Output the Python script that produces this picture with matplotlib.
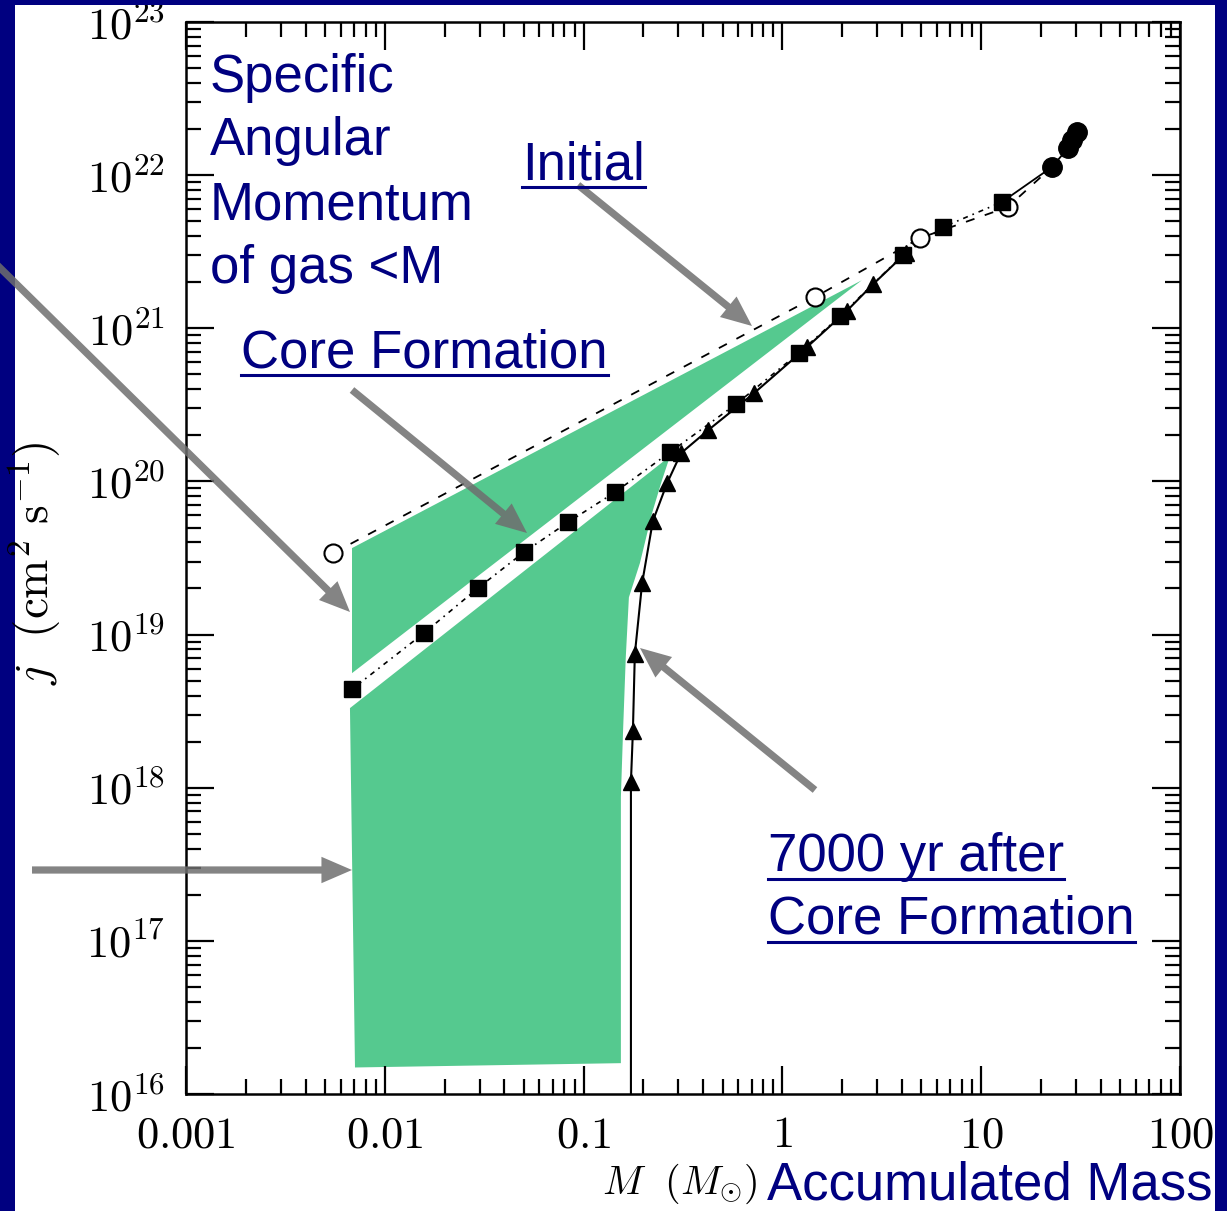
"""Specific angular momentum j(M) of the gas inside mass M, slide-style reproduction."""
import matplotlib
matplotlib.use("Agg")
import matplotlib.pyplot as plt
from matplotlib.patches import Rectangle, Polygon
from matplotlib.lines import Line2D
from matplotlib.ticker import LogLocator, NullFormatter

NAVY = "#000080"
GREEN = "#55c98f"
GRAY = "#6e6e6e"

# ---- data ----
init_m = [0.00549, 1.46, 4.92, 13.6, 22.7]
init_j = [3.40e19, 1.60e21, 3.88e21, 6.19e21, 1.13e22]

core_m = [0.00684, 0.0157, 0.0294, 0.0501, 0.0836, 0.144, 0.272, 0.585,
          1.21, 1.95, 4.04, 6.43, 12.7]
core_j = [4.40e18, 1.02e19, 2.01e19, 3.45e19, 5.42e19, 8.51e19, 1.55e20, 3.20e20,
          6.89e20, 1.20e21, 3.01e21, 4.58e21, 6.67e21]

late_m = [0.173, 0.177, 0.181, 0.197, 0.223, 0.263, 0.309, 0.423, 0.720,
          1.33, 2.11, 2.86, 4.18]
late_j = [1.09e18, 2.34e18, 7.45e18, 2.17e19, 5.51e19, 9.75e19, 1.53e20, 2.16e20,
          3.77e20, 7.54e20, 1.30e21, 1.94e21, 3.10e21]
late_floor = 1e16  # solid line drops to the axis below the first triangle

end_m = [12.7, 22.7, 27.3, 28.6, 30.3]
end_j = [6.67e21, 1.13e22, 1.50e22, 1.70e22, 1.91e22]

# shaded regions
wedge_m = [0.00684, 2.51, 0.00684]
wedge_j = [3.67e19, 2.06e21, 5.60e18]
lower_m = [0.00668, 0.272, 0.248, 0.221, 0.192, 0.169, 0.163, 0.158, 0.154, 0.154, 0.00708]
lower_j = [3.31e18, 1.46e20, 1.02e20, 6.21e19, 2.93e19, 1.75e19, 7.12e18, 2.38e18,
           8.67e17, 1.59e16, 1.49e16]

xticks = [0.001, 0.01, 0.1, 1, 10, 100]
xlabels = ["0.001", "0.01", "0.1", "1", "10", "100"]
yticks = [10.0 ** k for k in range(16, 24)]
ylabels = [rf"$10^{{{k}}}$" for k in range(16, 24)]

W, H = 1227, 1211
plt.rcParams["mathtext.fontset"] = "cm"

fig = plt.figure(figsize=(W / 100, H / 100), dpi=100, facecolor=NAVY)
fig.add_artist(Rectangle((15 / W, 0), 1200 / W, 1206 / H, transform=fig.transFigure,
                         facecolor="white", edgecolor="none", zorder=-5))

ax = fig.add_axes([186 / W, (H - 1094) / H, 994 / W, 1072 / H])
ax.set_facecolor("none")
ax.set_xscale("log")
ax.set_yscale("log")
ax.set_xlim(1e-3, 1e2)
ax.set_ylim(1e16, 1e23)

ax.add_patch(Polygon(list(zip(wedge_m, wedge_j)), closed=True, facecolor=GREEN,
                     edgecolor="none", zorder=1))
ax.add_patch(Polygon(list(zip(lower_m, lower_j)), closed=True, facecolor=GREEN,
                     edgecolor="none", zorder=1))

ax.plot(init_m, init_j, color="black", lw=1.3, dashes=(5, 6), zorder=3)
ax.plot(init_m[:4], init_j[:4], ls="none", marker="o", ms=13, mfc="white",
        mec="black", mew=1.5, zorder=4)
ax.plot(core_m, core_j, color="black", lw=1.2, dashes=(1, 3, 3, 3), zorder=3)
ax.plot(core_m, core_j, ls="none", marker="s", ms=11.5, color="black", zorder=4)
ax.plot([late_m[0]] + late_m, [late_floor] + late_j, color="black", lw=1.5, zorder=3)
ax.plot(late_m, late_j, ls="none", marker="^", ms=11.5, color="black", zorder=4)
ax.plot(end_m, end_j, color="black", lw=1.3, zorder=3)
ax.plot(end_m[1:], end_j[1:], ls="none", marker="o", ms=14, color="black", zorder=4)

ax.set_xticks(xticks)
ax.set_xticklabels([f"${s}$" for s in xlabels])
ax.set_yticks(yticks)
ax.set_yticklabels(ylabels)
ax.xaxis.set_minor_locator(LogLocator(base=10, subs=range(2, 10), numticks=20))
ax.yaxis.set_minor_locator(LogLocator(base=10, subs=range(2, 10), numticks=20))
ax.xaxis.set_minor_formatter(NullFormatter())
ax.yaxis.set_minor_formatter(NullFormatter())
ax.tick_params(which="both", direction="in", top=True, right=True, width=1.6,
               colors="black", labelsize=32)
ax.tick_params(which="major", length=20)
ax.tick_params(which="minor", length=11)
ax.tick_params(axis="y", pad=15)
ax.tick_params(axis="x", pad=14)
for sp in ax.spines.values():
    sp.set_linewidth(1.8)

# axis titles
fig.text(35 / W, 1 - 563 / H, r"$j\ \ (\mathrm{cm}^2\ \mathrm{s}^{-1})$", rotation=90,
         ha="center", va="center", fontsize=34)
fig.text(758 / W, 1 - 1194 / H, r"$M\ \ (M_{\odot})$", ha="right", va="baseline",
         fontsize=29)
fig.text(767 / W, 1 - 1199 / H, "Accumulated Mass", ha="left", va="baseline",
         fontsize=38, color=NAVY, family="Liberation Sans")

# slide annotations
sans = dict(fontsize=38, color=NAVY, family="Liberation Sans", va="baseline", ha="left")
for i, line in enumerate(["Specific", "Angular", "Momentum", "of gas <M"]):
    fig.text(210 / W, 1 - (92 + 63.5 * i) / H, line, **sans)

underlined = [
    fig.text(522 / W, 1 - 179 / H, "Initial", **sans),
    fig.text(241 / W, 1 - 367 / H, "Core Formation", **sans),
    fig.text(768 / W, 1 - 871 / H, "7000 yr after", **sans),
    fig.text(768 / W, 1 - 934 / H, "Core Formation", **sans),
]
fig.canvas.draw()
rend = fig.canvas.get_renderer()
for t in underlined:
    bb = t.get_window_extent(rend)
    ybase = t.get_position()[1] * H - 8
    fig.add_artist(Line2D([bb.x0 / W, bb.x1 / W], [ybase / H, ybase / H],
                          transform=fig.transFigure, color=NAVY, lw=2.2))

# gray arrows: (start, tip) in image pixels
arrows = [((-10, 258), (350, 612)),
          ((352, 390), (527, 533)),
          ((578, 185), (752, 326)),
          ((815, 790), (640, 648)),
          ((32, 870), (352, 870))]
for (x0, y0), (x1, y1) in arrows:
    ax.annotate("", xy=(x1, H - y1), xycoords="figure pixels",
                xytext=(x0, H - y0), textcoords="figure pixels",
                annotation_clip=False, zorder=30,
                arrowprops=dict(arrowstyle="simple,head_length=1.1,head_width=0.95,tail_width=0.26",
                                mutation_scale=20, color=GRAY, alpha=0.85, lw=0,
                                shrinkA=0, shrinkB=0))

# navy frame over the edges of the white panel
fig.add_artist(Rectangle((1215 / W, 0), 12 / W, 1, transform=fig.transFigure,
                         facecolor=NAVY, edgecolor="none", zorder=20))
fig.add_artist(Rectangle((0, 1206 / H), 1, 5 / H, transform=fig.transFigure,
                         facecolor=NAVY, edgecolor="none", zorder=20))

fig.savefig("out.png", dpi=100, facecolor=NAVY)
